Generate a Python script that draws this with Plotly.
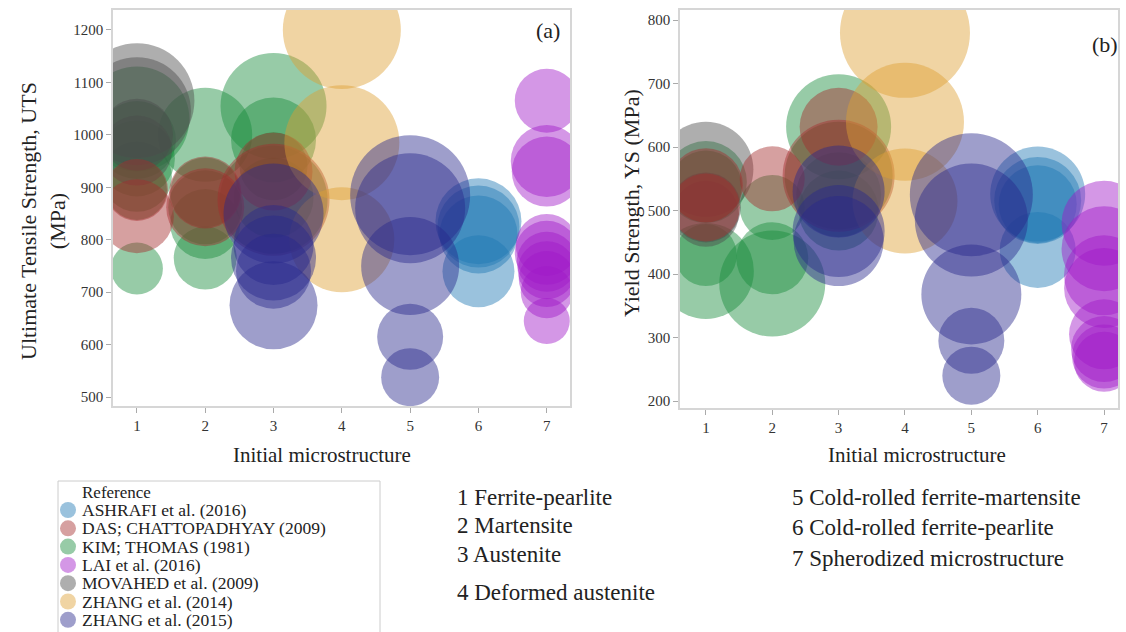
import plotly.graph_objects as go

W, H = 1126, 632

references = ["ASHRAFI et al. (2016)", "DAS; CHATTOPADHYAY (2009)", "KIM; THOMAS (1981)",
              "LAI et al. (2016)", "MOVAHED et al. (2009)", "ZHANG et al. (2014)", "ZHANG et al. (2015)"]
ref_colors = ["rgb(31,119,180)", "rgb(165,45,45)", "rgb(25,140,60)", "rgb(160,25,200)",
              "rgb(75,75,75)", "rgb(222,160,50)", "rgb(40,40,140)"]
# order in which the reference groups are drawn (bottom to top)
draw_order = [2, 4, 1, 0, 5, 6, 3]

micro_ticks = [1, 2, 3, 4, 5, 6, 7]
uts_ticks = [500, 600, 700, 800, 900, 1000, 1100, 1200]
ys_ticks = [200, 300, 400, 500, 600, 700, 800]

# Panel (a): UTS
a_ref = [0, 0, 0, 0,
         1, 1, 1, 1, 1, 1,
         2, 2, 2, 2, 2, 2, 2, 2, 2, 2, 2, 2, 2, 2, 2, 2,
         3, 3, 3, 3, 3, 3, 3, 3, 3, 3,
         4, 4, 4, 4,
         5, 5, 5,
         6, 6, 6, 6, 6, 6, 6, 6, 6, 6]
a_micro = [6, 6, 6, 6,
           1, 1, 2, 2, 3, 3,
           1, 1, 1, 1, 2, 2, 2, 3, 3, 3, 3, 1, 1, 2, 2, 3,
           7, 7, 7, 7, 7, 7, 7, 7, 7, 7,
           1, 1, 1, 1,
           4, 4, 4,
           3, 3, 3, 3, 3, 5, 5, 5, 5, 5]
a_uts = [835, 825, 810, 740,
         895, 845, 890, 862, 930, 876,
         1030, 990, 955, 745, 1000, 830, 765, 1055, 990, 940, 880, 920, 895, 890, 862, 876,
         1065, 950, 930, 790, 775, 758, 742, 725, 700, 645,
         1065, 1045, 1000, 970,
         1200, 985, 800,
         850, 790, 765, 740, 675, 885, 860, 750, 615, 538]
a_size = [86, 82, 78, 72,
          62, 74, 72, 78, 78, 112,
          105, 78, 76, 52, 94, 70, 63, 106, 85, 68, 80, 70, 60, 70, 74, 108,
          64, 72, 70, 62, 64, 60, 58, 56, 52, 46,
          115, 108, 72, 70,
          118, 115, 105,
          100, 80, 85, 75, 88, 120, 110, 98, 66, 58]

# Panel (b): YS
b_ref = [0, 0, 0, 0,
         1, 1, 1, 1, 1,
         2, 2, 2, 2, 2, 2, 2, 2, 2, 2, 2,
         3, 3, 3, 3, 3, 3, 3, 3,
         4, 4, 4,
         5, 5, 5,
         6, 6, 6, 6, 6, 6, 6, 6]
b_micro = [6, 6, 6, 6,
           1, 1, 2, 3, 3,
           1, 1, 1, 2, 2, 2, 3, 3, 3, 1, 3,
           7, 7, 7, 7, 7, 7, 7, 7,
           1, 1, 1,
           4, 4, 4,
           3, 3, 3, 5, 5, 5, 5, 5]
b_ys = [526, 516, 510, 438,
        540, 505, 550, 632, 555,
        545, 430, 405, 505, 425, 385, 632, 525, 500, 538, 555,
        480, 440, 398, 378, 305, 282, 270, 262,
        565, 505, 495,
        780, 640, 515,
        530, 468, 452, 525, 485, 368, 295, 240]
b_size = [95, 87, 78, 76,
          74, 68, 65, 78, 112,
          82, 62, 96, 65, 72, 106, 105, 85, 80, 72, 108,
          85, 85, 80, 80, 70, 66, 64, 60,
          95, 70, 66,
          130, 118, 105,
          92, 92, 90, 123, 113, 100, 66, 58]

FONT = "Liberation Serif"
OPAC = 0.45

fig = go.Figure()

def add_panel(refs, xs, ys, sizes, xa, ya):
    for i in draw_order:
        idx = [k for k, r in enumerate(refs) if r == i]
        fig.add_trace(go.Scatter(
            x=[xs[k] for k in idx], y=[ys[k] for k in idx],
            mode="markers", name=references[i], showlegend=False,
            marker=dict(size=[sizes[k] for k in idx], sizemode="diameter", sizeref=1,
                        color=ref_colors[i], opacity=OPAC, line=dict(width=0)),
            xaxis=xa, yaxis=ya, hoverinfo="x+y"))

add_panel(a_ref, a_micro, a_uts, a_size, "x", "y")
add_panel(b_ref, b_micro, b_ys, b_size, "x2", "y2")

def px_x(p):
    return p / W

def px_y(p):
    return (H - p) / H

axis_common = dict(showline=True, mirror=True, linecolor="#d6d6d6", linewidth=1.5,
                   showgrid=False, zeroline=False, ticks="outside", ticklen=5,
                   tickcolor="#aaaaaa", tickfont=dict(family=FONT, size=15, color="#333"))

fig.update_layout(
    width=W, height=H, autosize=False, margin=dict(l=0, r=0, t=0, b=0),
    paper_bgcolor="white", plot_bgcolor="white",
    font=dict(family=FONT, color="#222"),
    showlegend=False,
    xaxis=dict(domain=[px_x(113), px_x(570)], range=[0.65, 7.34], tickvals=micro_ticks,
               anchor="y", **axis_common),
    yaxis=dict(domain=[px_y(406), px_y(10)], range=[483, 1238], tickvals=uts_ticks,
               anchor="x", **axis_common),
    xaxis2=dict(domain=[px_x(680), px_x(1118)], range=[0.61, 7.21], tickvals=micro_ticks,
                anchor="y2", **axis_common),
    yaxis2=dict(domain=[px_y(408), px_y(10)], range=[189, 816], tickvals=ys_ticks,
                anchor="x2", **axis_common),
)

# legend box and swatches
fig.add_shape(type="rect", xref="paper", yref="paper",
              x0=px_x(58), x1=px_x(380), y0=-0.05, y1=px_y(481),
              line=dict(color="#cccccc", width=1), fillcolor="rgba(0,0,0,0)")

ann = []
def text(t, x, y, size, xanchor="center", angle=0):
    ann.append(dict(text=t, x=px_x(x), y=px_y(y), xref="paper", yref="paper",
                    showarrow=False, xanchor=xanchor, yanchor="middle", textangle=angle,
                    font=dict(family=FONT, size=size, color="#222")))

LEG_TOP, LEG_STEP = 510, 18.3
text("Reference", 80, 492, 17, xanchor="left")
for i, name in enumerate(references):
    yc = LEG_TOP + i * LEG_STEP
    fig.add_shape(type="circle", xref="paper", yref="paper",
                  x0=px_x(60), x1=px_x(76), y0=px_y(yc + 8), y1=px_y(yc - 8),
                  fillcolor=ref_colors[i], opacity=OPAC, line=dict(width=0))
    text(name, 80, yc, 17.5, xanchor="left")

text("(a)", 548, 30, 22)
text("(b)", 1105, 44, 22)
text("Ultimate Tensile Strength, UTS<br>(MPa)", 43, 221, 22, angle=-90)
text("Yield Strength, YS (MPa)", 631, 203, 22, angle=-90)
text("Initial microstructure", 322, 455, 21)
text("Initial microstructure", 917, 455, 21)
text("1 Ferrite-pearlite", 455, 497, 23, xanchor="left")
text("2 Martensite", 455, 525, 23, xanchor="left")
text("3 Austenite", 455, 554, 23, xanchor="left")
text("4 Deformed austenite", 455, 592, 23, xanchor="left")
text("5 Cold-rolled ferrite-martensite", 790, 497, 23, xanchor="left")
text("6 Cold-rolled ferrite-pearlite", 790, 527, 23, xanchor="left")
text("7 Spherodized microstructure", 790, 558, 23, xanchor="left")
fig.update_layout(annotations=ann)

fig.write_html("out.html", config={"responsive": False})
